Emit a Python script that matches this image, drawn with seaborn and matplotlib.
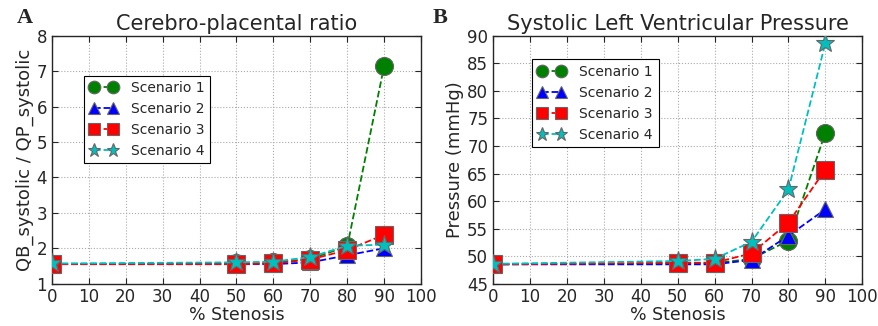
import seaborn as sns
import matplotlib.pyplot as plt
import pandas as pd

stenosis = [0, 50, 60, 70, 80, 90]
scenarios = ["Scenario 1", "Scenario 2", "Scenario 3", "Scenario 4"]

# cerebro-placental ratio
cpr_s1 = [1.55, 1.57, 1.60, 1.70, 2.05, 7.15]
cpr_s2 = [1.55, 1.55, 1.55, 1.60, 1.80, 2.00]
cpr_s3 = [1.55, 1.55, 1.57, 1.68, 1.95, 2.38]
cpr_s4 = [1.57, 1.60, 1.62, 1.75, 2.07, 2.10]

# systolic left ventricular pressure (mmHg)
lvp_s1 = [48.5, 48.7, 48.7, 49.5, 52.8, 72.4]
lvp_s2 = [48.5, 48.5, 48.5, 49.3, 53.7, 58.5]
lvp_s3 = [48.5, 48.8, 48.8, 50.5, 56.1, 65.7]
lvp_s4 = [48.6, 49.1, 49.5, 52.6, 62.1, 88.7]

colors = ["green", "blue", "red", "c"]
markers = ["o", "^", "s", "*"]
msizes = [13, 12, 13, 14]

sns.set_style("ticks")
plt.rcParams['font.family'] = ['DejaVu Sans']

fig, axes = plt.subplots(1, 2, figsize=(8.79, 3.26), dpi=100)
fig.subplots_adjust(left=0.059, right=0.981, top=0.89, bottom=0.13, wspace=0.195)

panels = [
    (axes[0], [cpr_s1, cpr_s2, cpr_s3, cpr_s4], "Cerebro-placental ratio",
     "QB_systolic / QP_systolic", (1, 8), 1, (0.087, 0.84), "A", 0.019),
    (axes[1], [lvp_s1, lvp_s2, lvp_s3, lvp_s4], "Systolic Left Ventricular Pressure",
     "Pressure (mmHg)", (45, 90), 5, (0.106, 0.906), "B", 0.492),
]

for ax, series, title, ylabel, ylim, ystep, legpos, letter, lx in panels:
    for i, vals in enumerate(series):
        df = pd.DataFrame({"x": stenosis, "y": vals})
        sns.lineplot(data=df, x="x", y="y", ax=ax, color=colors[i], marker=markers[i],
                     markersize=msizes[i], linestyle="--", linewidth=1.3,
                     markeredgecolor="#666666", markeredgewidth=0.8,
                     label=scenarios[i], zorder=3 + i)
    ax.set_xlim(0, 100)
    ax.set_ylim(*ylim)
    ax.set_xticks(range(0, 101, 10))
    ax.set_yticks(range(ylim[0], ylim[1] + 1, ystep))
    ax.grid(True, linestyle=":", color="#aaaaaa", linewidth=0.8)
    ax.tick_params(direction="in", labelsize=12, length=4, top=True, right=True)
    ax.set_title(title, fontsize=15, pad=4)
    ax.set_xlabel("% Stenosis", fontsize=12.5, labelpad=0)
    ax.set_ylabel(ylabel, fontsize=13, labelpad=2)
    for spine in ax.spines.values():
        spine.set_linewidth(1.0)
    leg = ax.legend(loc="upper left", bbox_to_anchor=legpos, borderaxespad=0,
                    numpoints=2, markerscale=0.7, fontsize=10, fancybox=False,
                    framealpha=1, edgecolor="black", handlelength=2.0,
                    handletextpad=1.0)
    leg.get_frame().set_linewidth(0.8)
    fig.text(lx, 0.975, letter, fontsize=16, fontweight="bold",
             family="Liberation Serif", va="top")

plt.savefig("out.png", dpi=100)
